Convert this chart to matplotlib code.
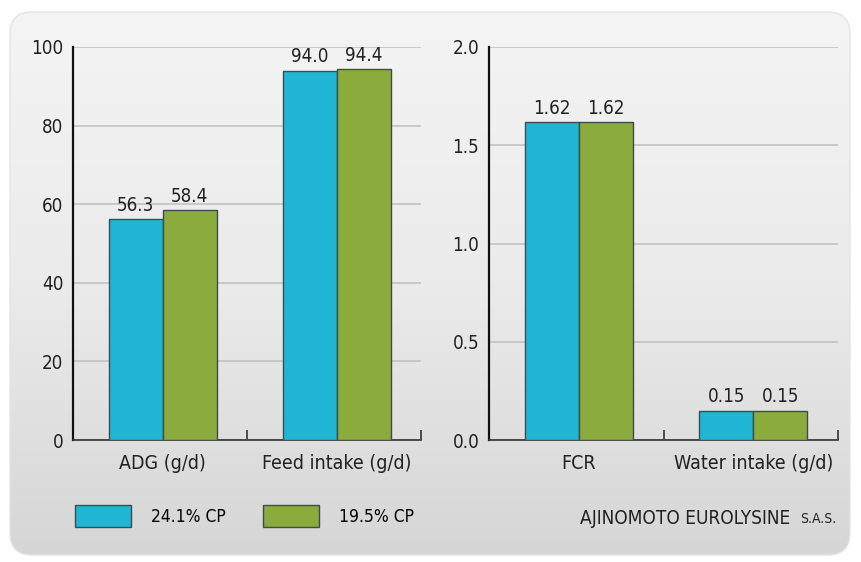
import numpy as np
import matplotlib.pyplot as plt
from matplotlib.patches import FancyBboxPatch

# ============================================================
# Data
# ============================================================
series = ["24.1% CP", "19.5% CP"]
colors = ["#20b6d3", "#8bab3c"]

left_cats = ["ADG (g/d)", "Feed intake (g/d)"]
left_high = [56.3, 94.0]
left_low = [58.4, 94.4]
left_ticks = [0, 20, 40, 60, 80, 100]

right_cats = ["FCR", "Water intake (g/d)"]
right_high = [1.62, 0.15]
right_low = [1.62, 0.15]
right_ticks = [0.0, 0.5, 1.0, 1.5, 2.0]

plt.rcParams['font.family'] = ['DejaVu Sans']
plt.rcParams['font.stretch'] = 'condensed'
plt.rcParams['font.size'] = 13

fig = plt.figure(figsize=(8.61, 5.62), dpi=100)
fig.patch.set_facecolor("white")

# ============================================================
# Rounded gradient panel
# ============================================================
bg = fig.add_axes([0, 0, 1, 1], zorder=-10)
bg.set_xlim(0, 861); bg.set_ylim(562, 0); bg.axis("off")
grad = np.linspace(0, 1, 256).reshape(-1, 1)
img = bg.imshow(grad, cmap=plt.matplotlib.colors.LinearSegmentedColormap.from_list(
    "g", ["#f4f4f4", "#ebebeb", "#d6d6d6"]), extent=[10, 850, 555, 12], aspect="auto")
panel = FancyBboxPatch((10, 12), 840, 543, boxstyle="round,pad=0,rounding_size=22",
                       transform=bg.transData, facecolor="none", edgecolor="#e4e4e4", lw=1)
bg.add_patch(panel)
img.set_clip_path(panel)


def draw(ax, cats, a, b, ticks, fmt, tickfmt):
    x = np.arange(len(cats))
    w = 0.31
    b1 = ax.bar(x - w / 2, a, w, color=colors[0], edgecolor="#3c4c50", lw=1, zorder=3, label=series[0])
    b2 = ax.bar(x + w / 2, b, w, color=colors[1], edgecolor="#3c4c50", lw=1, zorder=3, label=series[1])
    ax.bar_label(b1, fmt=fmt, padding=3, fontsize=13.5, color="#222222")
    ax.bar_label(b2, fmt=fmt, padding=3, fontsize=13.5, color="#222222")
    ax.set_xlim(-0.515, len(cats) - 0.515)
    ax.set_ylim(ticks[0], ticks[-1])
    ax.set_yticks(ticks)
    ax.set_yticklabels([tickfmt.format(t) for t in ticks])
    ax.set_xticks(x)
    ax.set_xticklabels(cats)
    ax.set_xticks(x + 0.485, minor=True)
    ax.tick_params(axis="x", which="major", length=0, pad=10, labelsize=14, colors="#222222")
    ax.tick_params(axis="x", which="minor", direction="in", length=7, width=1.2, color="#333333")
    ax.tick_params(axis="y", length=0, pad=7, labelsize=13.5, colors="#222222")
    ax.set_facecolor("none")
    ax.grid(axis="y", color="#c2c2c2", lw=1.2, zorder=0)
    for s in ["top", "right"]:
        ax.spines[s].set_visible(False)
    ax.spines["left"].set_color("#111111")
    ax.spines["left"].set_linewidth(1.6)
    ax.spines["bottom"].set_color("#333333")
    ax.spines["bottom"].set_linewidth(1.2)
    return b1, b2


ax1 = fig.add_axes([73 / 861, 1 - 440 / 562, 348 / 861, 393 / 562])
h = draw(ax1, left_cats, left_high, left_low, left_ticks, "%.1f", "{:.0f}")
ax2 = fig.add_axes([489 / 861, 1 - 440 / 562, 349 / 861, 393 / 562])
draw(ax2, right_cats, right_high, right_low, right_ticks, "%.2f", "{:.1f}")

fig.legend(handles=h, labels=series, loc="center left", bbox_to_anchor=(75 / 861, 1 - 516 / 562),
           ncol=2, frameon=False, fontsize=12.5, handlelength=3.2, handleheight=1.65,
           handletextpad=1.15, columnspacing=2.2, borderpad=0, borderaxespad=0)

fig.text(790 / 861, 1 - 518 / 562, "AJINOMOTO EUROLYSINE", ha="right", va="center",
         fontsize=13.7, color="#222222")
fig.text(836 / 861, 1 - 519 / 562, "S.A.S.", ha="right", va="center", fontsize=10, color="#222222")

fig.savefig("out.png", dpi=100)
